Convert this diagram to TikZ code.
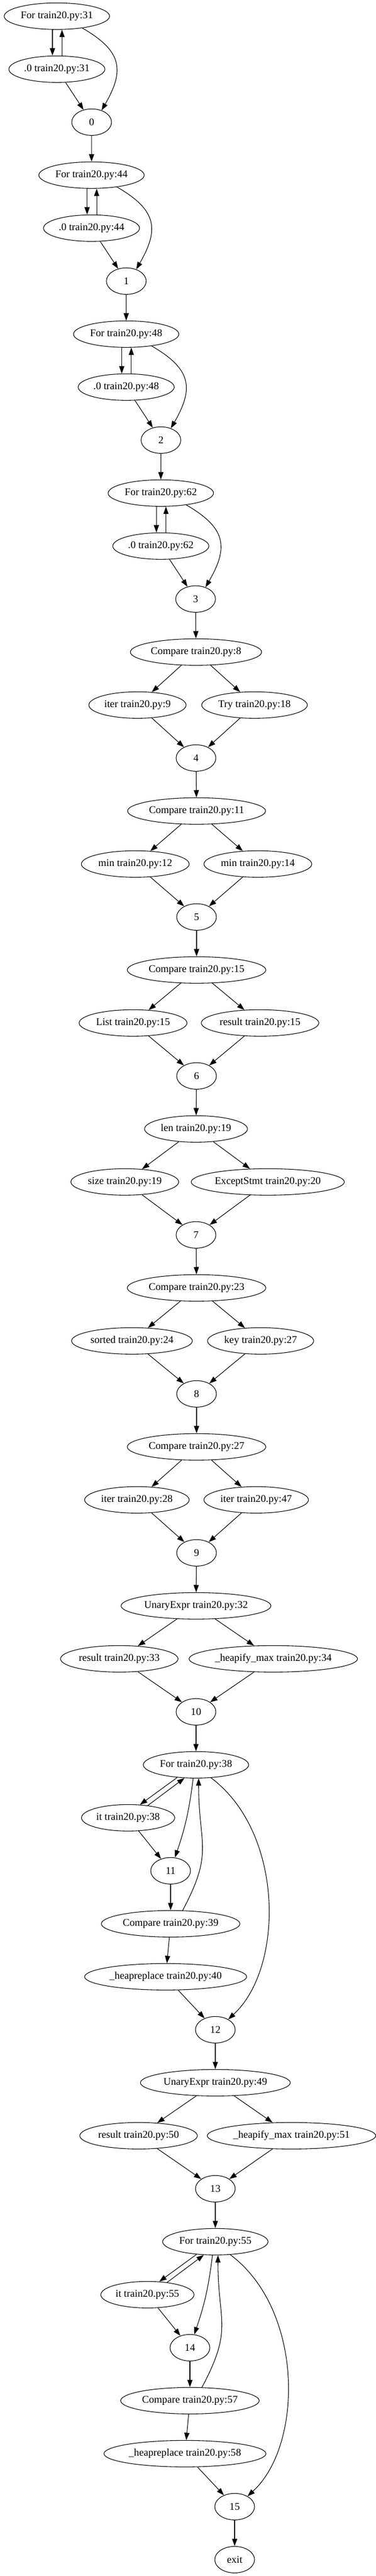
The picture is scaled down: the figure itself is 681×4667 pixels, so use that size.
\documentclass[tikz,border=0pt]{standalone}
\usepackage{fontspec}
\setmainfont{Liberation Serif}
\usepackage{tikz}
\usetikzlibrary{shapes.geometric}
\usetikzlibrary{arrows.meta}

\begin{document}
\begin{tikzpicture}
    [%%%%%%%%%%%%%%%%%%%%%%%%%%%%%%
        x=0.75pt, y=0.75pt,
        ast/.style={ellipse,draw=black,thick,minimum width=54pt,minimum height=36pt,
            inner xsep=1.6pt,inner ysep=2pt,font=\fontsize{14pt}{16pt}\selectfont},
        link/.style={-{Triangle[length=10pt,width=7pt]},thick}
    ]%%%%%%%%%%%%%%%%%%%%%%%%%%%%%%
\useasboundingbox (0,0) rectangle (681,-4667);

% for loops at the top
\foreach \ln [count=\i from 0] in {31,44,48,62}{
    \node[ast] (f\i) at ({103+62.75*\i},{-29.33-288*\i}) {For train20.py:\ln};
    \node[ast] (d\i) at ({103+62.75*\i},{-125.33-288*\i}) {.0 train20.py:\ln};
    \node[ast] (n\i) at ({166+62.75*\i},{-221.33-288*\i}) {\i};
    \draw[link] ([xshift=-6pt]f\i.south) -- ([xshift=-6pt]d\i.north);
    \draw[link] ([xshift=7pt]d\i.north) -- ([xshift=7pt]f\i.south);
    \draw[link] (f\i.-25) to[out=-30,in=60,looseness=1.4] (n\i.50);
    \draw[link] (d\i) -- (n\i);
}

% two way splits
\foreach \xc/\rk/\m/\xl/\xr/\tA/\tB/\tC in {
    355/12/4/249/461/Compare train20.py:8/iter train20.py:9/Try train20.py:18,
    356/15/5/245/467/Compare train20.py:11/min train20.py:12/min train20.py:14,
    356/18/6/241/471/Compare train20.py:15/List train20.py:15/result train20.py:15,
    355/21/7/226/485/len train20.py:19/size train20.py:19/ExceptStmt train20.py:20,
    356/24/8/239/472/Compare train20.py:23/sorted train20.py:24/key train20.py:27,
    356/27/9/248/464/Compare train20.py:27/iter train20.py:28/iter train20.py:47,
    355/30/10/216/495/UnaryExpr train20.py:32/result train20.py:33/\_heapify\_max train20.py:34,
    390/39/13/251/528/UnaryExpr train20.py:49/result train20.py:50/\_heapify\_max train20.py:51}{
    \node[ast] (t\m) at (\xc,{-29.33-96*\rk}) {\tA};
    \node[ast] (l\m) at (\xl,{-125.33-96*\rk}) {\tB};
    \node[ast] (r\m) at (\xr,{-125.33-96*\rk}) {\tC};
    \node[ast] (n\m) at (\xc,{-221.33-96*\rk}) {\m};
    \draw[link] (t\m) -- (l\m);
    \draw[link] (t\m) -- (r\m);
    \draw[link] (l\m) -- (n\m);
    \draw[link] (r\m) -- (n\m);
}

% for loops at the bottom
\foreach \j/\lf/\lc/\lh/\na/\nb in {0/38/39/40/11/12,1/55/57/58/14/15}{
\begin{scope}[shift={(35*\j,-864*\j)}]
    \node[ast] (f\lf) at (355,-3197.33) {For train20.py:\lf};
    \node[ast] (it\lf) at (232,-3293.33) {it train20.py:\lf};
    \node[ast] (n\na) at (309,-3389.33) {\na};
    \node[ast] (c\lc) at (309,-3485.33) {Compare train20.py:\lc};
    \node[ast] (hr\lh) at (300,-3581.33) {\_heapreplace train20.py:\lh};
    \node[ast] (n\nb) at (390,-3677.33) {\nb};
    \draw[link] (f\lf.214) -- (it\lf.48);
    \draw[link] (it\lf.32) -- (f\lf.229);
    \draw[link] (f\lf.258) to[bend left=6] (n\na.72);
    \draw[link] (it\lf) -- (n\na);
    \draw[link] (n\na) -- (c\lc);
    \draw[link] (c\lc.48) to[out=62,in=-90,looseness=1.3] (f\lf.281);
    \draw[link] (c\lc) -- (hr\lh);
    \draw[link] (hr\lh) -- (n\nb);
    \draw[link] (f\lf.-41) .. controls (515,-3320) and (515,-3565) .. (n\nb.39);
\end{scope}
}

\node[ast] (exit) at (425,-4637.33) {exit};

\foreach \a/\b in {n0/f1,n1/f2,n2/f3,n3/t4,n4/t5,n5/t6,n6/t7,n7/t8,n8/t9,n9/t10,
    n10/f38,n12/t13,n13/f55,n15/exit}
    \draw[link] (\a) -- (\b);

\end{tikzpicture}
\end{document}
